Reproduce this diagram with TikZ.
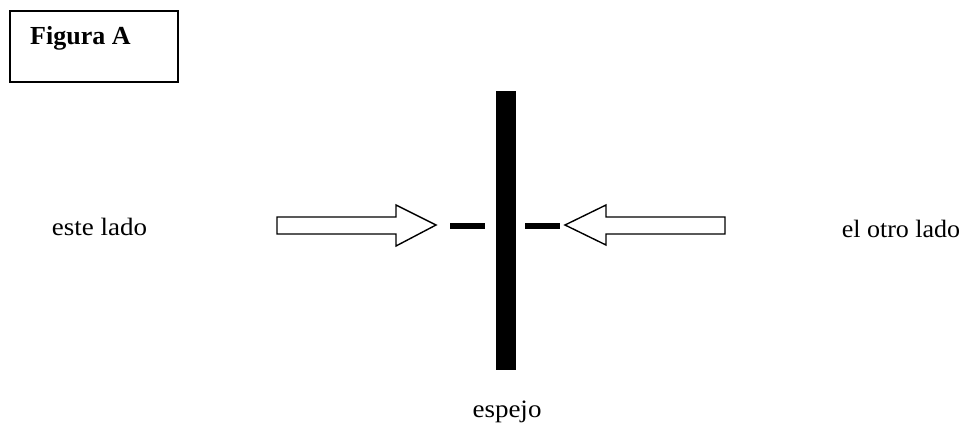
\documentclass[tikz,border=0pt]{standalone}
\usepackage{fontspec}
\setmainfont{Liberation Serif}
\begin{document}
\begin{tikzpicture}[x=1pt,y=-1pt,
  lbl/.style={inner sep=0pt,anchor=base,font=\fontsize{25}{28}\selectfont},
  hollow/.style={draw=black,line width=1.4pt,fill=white,line join=miter},
  blk/.style={fill=black,draw=none}]
\useasboundingbox (0,0) rectangle (967,423);
% title box
\node[draw=black,line width=1.8pt,minimum width=168pt,minimum height=71pt,anchor=north west,inner sep=0pt] (box) at (9,10) {};
\node[inner sep=0pt,anchor=base west,font=\fontsize{26}{30}\selectfont\bfseries] (title) at (30,44) {Figura A};
% mirror
\path[blk] (496,91) rectangle (516,370);
\coordinate (mirror) at (506,226);
% dashes
\path[blk] (450,223) rectangle (485,229);
\path[blk] (525,223) rectangle (560,229);
% left arrow
\draw[hollow] (277,217) -- (396,217) -- (396,205) -- (436,225) -- (396,246) -- (396,234) -- (277,234) -- cycle;
% right arrow
\draw[hollow] (725,217) -- (606,217) -- (606,205) -- (565,225) -- (606,245) -- (606,234) -- (725,234) -- cycle;
% labels
\node[lbl] (este) at (99.5,235) {\scalebox{1.08}[1]{este lado}};
\node[lbl] (otro) at (901,237) {\scalebox{1.04}[1]{el otro lado}};
\node[lbl] (espejo) at (507,417) {\scalebox{1.08}[1]{espejo}};
\end{tikzpicture}
\end{document}
